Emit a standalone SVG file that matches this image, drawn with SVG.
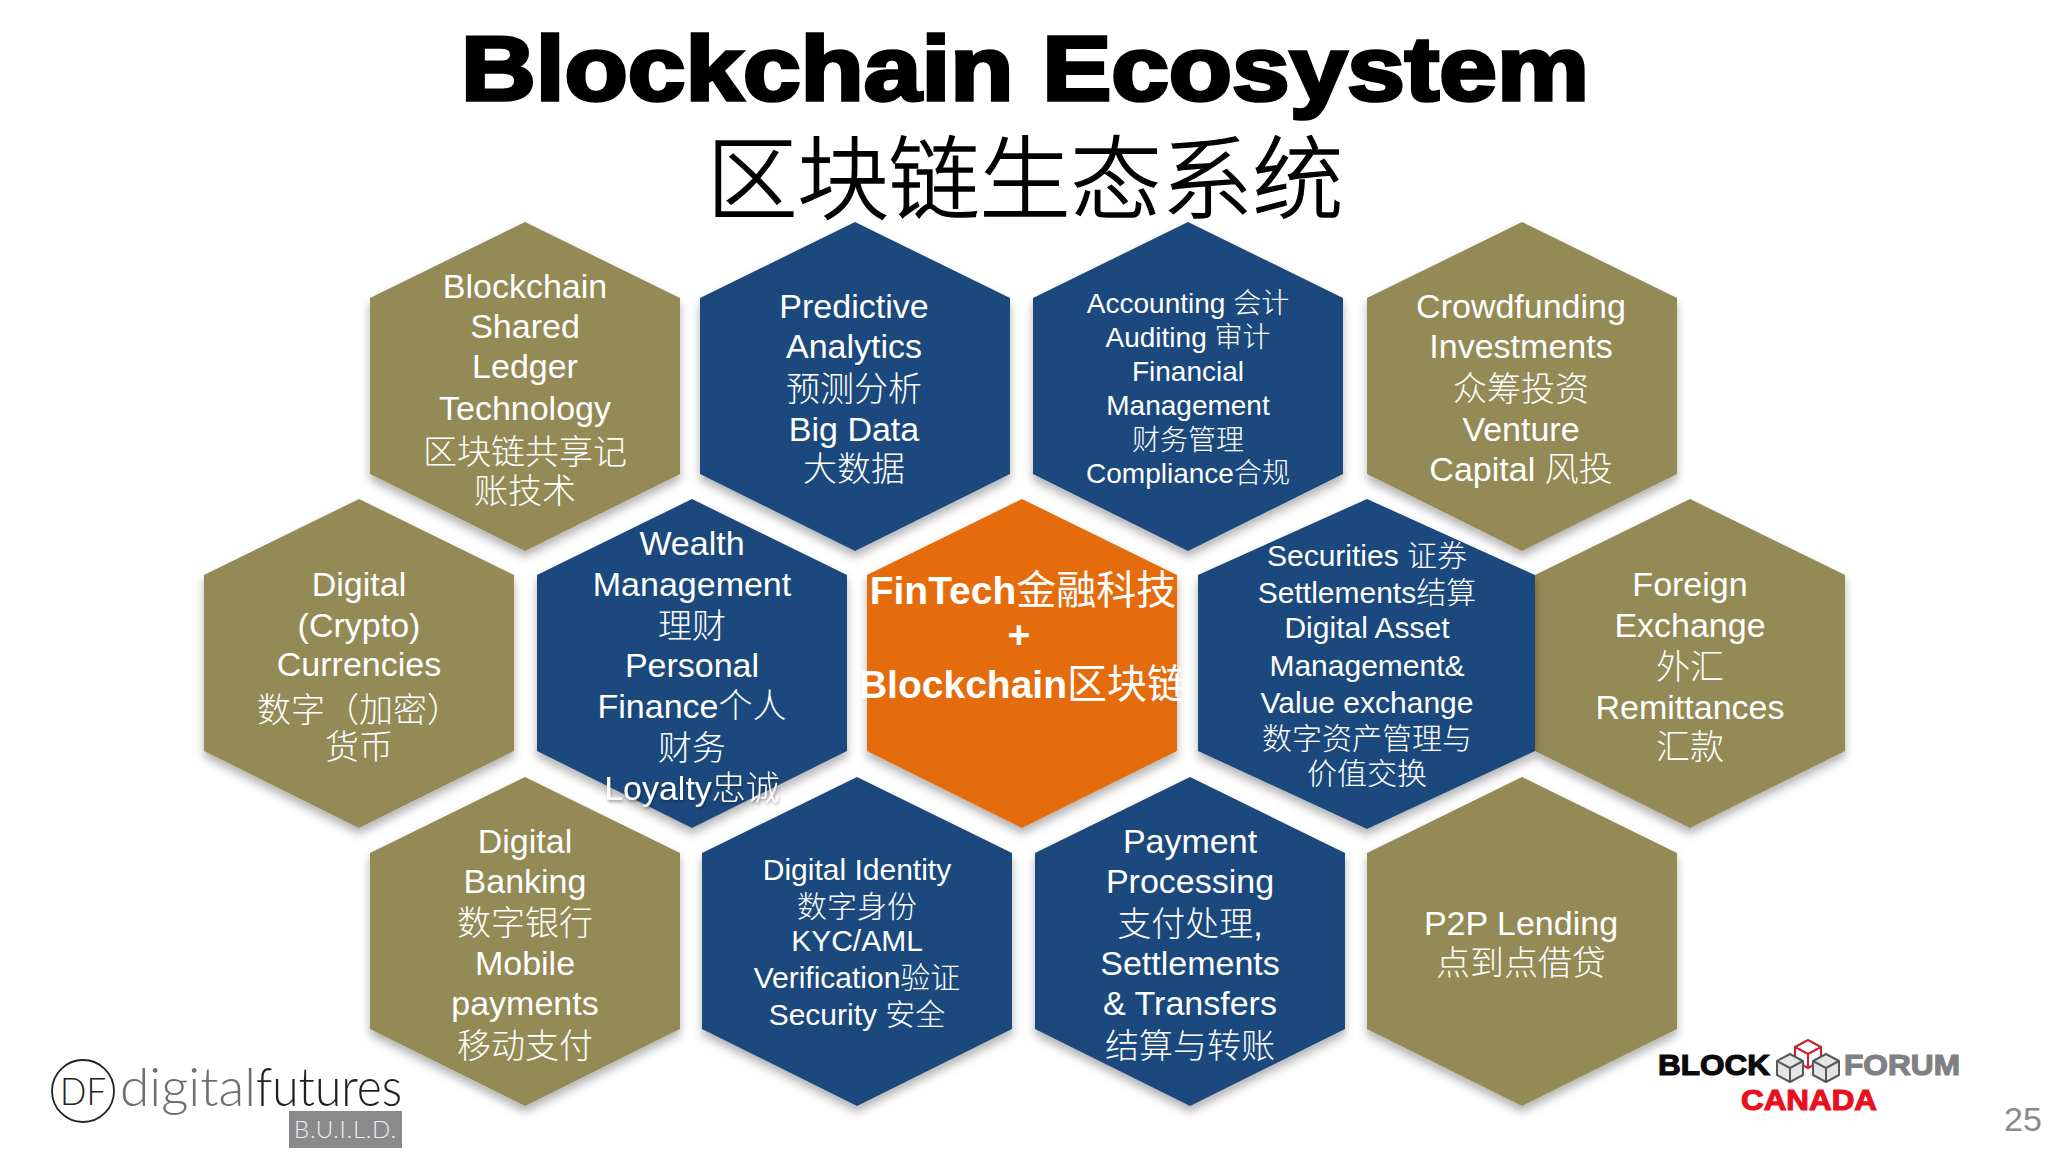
<svg xmlns="http://www.w3.org/2000/svg" width="2048" height="1152" viewBox="0 0 2048 1152">
<style>
text{font-family:"Liberation Sans","Noto Sans CJK SC",sans-serif;text-anchor:middle}
.t{fill:#fff;font-size:34px;font-weight:300}
.s{fill:#fff;font-size:28px;font-weight:300}
.m{fill:#fff;font-size:30px;font-weight:300}
.b{fill:#fff;font-size:39px;font-weight:700}
.z{font-weight:400;font-size:40px}
.o{fill:#938a56}.n{fill:#1f497d}.a{fill:#e46c0a}
.hb{font-weight:900;font-size:30px;stroke-width:1.2px}
.c{fill:#e3e6e4;stroke:#59595b;stroke-width:2;stroke-linejoin:round}
.r{fill:#fff;stroke:#c8232b;stroke-width:2;stroke-linejoin:round}
</style>
<defs>
<filter id="sh" x="-10%" y="-10%" width="120%" height="120%"><feDropShadow dx="0" dy="6" stdDeviation="5" flood-color="#000" flood-opacity=".3"/></filter>
<filter id="ts" x="-10%" y="-30%" width="120%" height="160%"><feDropShadow dx="1" dy="2" stdDeviation="1.5" flood-color="#000" flood-opacity=".35"/></filter>
<polygon id="hex" points="155,0 310,76 310,252 155,329 0,252 0,76"/>
<polygon id="hexw" points="169,0 337,76 337,252 169,330 0,252 0,76"/>
</defs>
<rect width="2048" height="1152" fill="#fff"/>
<g id="title">
<text x="1025" y="100" font-size="90" font-weight="700" fill="#000" stroke="#000" stroke-width="3.5" textLength="1128" lengthAdjust="spacingAndGlyphs">Blockchain Ecosystem</text>
<text x="1025" y="212" font-size="91" font-weight="300" fill="#000" stroke="#000" stroke-width="1.4">区块链生态系统</text>
</g>
<g id="hex-foreign"><use href="#hex" x="1535" y="499" class="o" filter="url(#sh)"/>
<text class="t"><tspan x="1690" y="596">Foreign</tspan><tspan x="1690" y="637">Exchange</tspan><tspan x="1690" y="679">外汇</tspan><tspan x="1690" y="719">Remittances</tspan><tspan x="1690" y="759">汇款</tspan></text></g>
<g id="hex-crypto"><use href="#hex" x="204" y="499" class="o" filter="url(#sh)"/>
<text class="t"><tspan x="359" y="596">Digital</tspan><tspan x="359" y="637">(Crypto)</tspan><tspan x="359" y="676">Currencies</tspan><tspan x="359" y="722">数字（加密）</tspan><tspan x="359" y="759">货币</tspan></text></g>
<g id="hex-blockchain"><use href="#hex" x="370" y="222" class="o" filter="url(#sh)"/>
<text class="t"><tspan x="525" y="298">Blockchain</tspan><tspan x="525" y="338">Shared</tspan><tspan x="525" y="378">Ledger</tspan><tspan x="525" y="420">Technology</tspan><tspan x="525" y="464">区块链共享记</tspan><tspan x="525" y="503">账技术</tspan></text></g>
<g id="hex-predictive"><use href="#hex" x="700" y="222" class="n" filter="url(#sh)"/>
<text class="t"><tspan x="854" y="318">Predictive</tspan><tspan x="854" y="358">Analytics</tspan><tspan x="854" y="401">预测分析</tspan><tspan x="854" y="441">Big Data</tspan><tspan x="854" y="481">大数据</tspan></text></g>
<g id="hex-accounting"><use href="#hex" x="1033" y="222" class="n" filter="url(#sh)"/>
<text class="s"><tspan x="1188" y="313">Accounting 会计</tspan><tspan x="1188" y="347">Auditing 审计</tspan><tspan x="1188" y="381">Financial</tspan><tspan x="1188" y="415">Management</tspan><tspan x="1188" y="450">财务管理</tspan><tspan x="1188" y="483">Compliance合规</tspan></text></g>
<g id="hex-crowdfunding"><use href="#hex" x="1367" y="222" class="o" filter="url(#sh)"/>
<text class="t"><tspan x="1521" y="318">Crowdfunding</tspan><tspan x="1521" y="358">Investments</tspan><tspan x="1521" y="401">众筹投资</tspan><tspan x="1521" y="441">Venture</tspan><tspan x="1521" y="481">Capital 风投</tspan></text></g>
<g id="hex-wealth"><use href="#hex" x="537" y="499" class="n" filter="url(#sh)"/>
<text class="t"><tspan x="692" y="555">Wealth</tspan><tspan x="692" y="596">Management</tspan><tspan x="692" y="638">理财</tspan><tspan x="692" y="677">Personal</tspan><tspan x="692" y="718">Finance个人</tspan><tspan x="692" y="760">财务</tspan></text>
<text class="t" x="692" y="800" filter="url(#ts)">Loyalty忠诚</text></g>
<g id="hex-fintech"><use href="#hex" x="867" y="499" class="a" filter="url(#sh)"/>
<text class="b"><tspan x="1023" y="604">FinTech<tspan class="z">金融科技</tspan></tspan><tspan x="1019" y="648">+</tspan><tspan x="1023" y="698">Blockchain<tspan class="z">区块链</tspan></tspan></text></g>
<g id="hex-securities"><use href="#hexw" x="1198" y="499" class="n" filter="url(#sh)"/>
<text class="m"><tspan x="1367" y="566">Securities 证券</tspan><tspan x="1367" y="603">Settlements结算</tspan><tspan x="1367" y="638">Digital Asset</tspan><tspan x="1367" y="676">Management&amp;</tspan><tspan x="1367" y="713">Value exchange</tspan><tspan x="1367" y="749">数字资产管理与</tspan><tspan x="1367" y="784">价值交换</tspan></text></g>
<g id="hex-banking"><use href="#hex" x="370" y="777" class="o" filter="url(#sh)"/>
<text class="t"><tspan x="525" y="853">Digital</tspan><tspan x="525" y="893">Banking</tspan><tspan x="525" y="935">数字银行</tspan><tspan x="525" y="975">Mobile</tspan><tspan x="525" y="1015">payments</tspan><tspan x="525" y="1058">移动支付</tspan></text></g>
<g id="hex-identity"><use href="#hex" x="702" y="777" class="n" filter="url(#sh)"/>
<text class="m"><tspan x="857" y="880">Digital Identity</tspan><tspan x="857" y="917">数字身份</tspan><tspan x="857" y="951">KYC/AML</tspan><tspan x="857" y="988">Verification验证</tspan><tspan x="857" y="1025">Security 安全</tspan></text></g>
<g id="hex-payment"><use href="#hex" x="1035" y="777" class="n" filter="url(#sh)"/>
<text class="t"><tspan x="1190" y="853">Payment</tspan><tspan x="1190" y="893">Processing</tspan><tspan x="1190" y="936">支付处理,</tspan><tspan x="1190" y="975">Settlements</tspan><tspan x="1190" y="1015">&amp; Transfers</tspan><tspan x="1190" y="1058">结算与转账</tspan></text></g>
<g id="hex-p2p"><use href="#hex" x="1367" y="777" class="o" filter="url(#sh)"/>
<text class="t"><tspan x="1521" y="935">P2P Lending</tspan><tspan x="1521" y="975">点到点借贷</tspan></text></g>
<g id="logo-df">
<circle cx="83" cy="1091" r="31" fill="none" stroke="#222" stroke-width="1.8"/>
<text x="83" y="1105" font-size="38" font-weight="300" fill="#222" style="font-family:Lato,'Liberation Sans',sans-serif" textLength="46" lengthAdjust="spacingAndGlyphs">DF</text>
<text x="188" y="1106" font-size="54" font-weight="300" fill="#6d6e70" style="font-family:Lato,'Liberation Sans',sans-serif" textLength="136" lengthAdjust="spacingAndGlyphs">digital</text>
<text x="329" y="1106" font-size="54" font-weight="300" fill="#1f1f21" style="font-family:Lato,'Liberation Sans',sans-serif" textLength="146" lengthAdjust="spacingAndGlyphs">futures</text>
<rect x="289" y="1111" width="113" height="37" fill="#8a8a8c"/>
<text x="345" y="1138" font-size="24" font-weight="300" fill="#eee" style="font-family:Lato,'Liberation Sans',sans-serif" textLength="102">B.U.I.L.D.</text>
</g>
<g id="logo-blockforum">
<polygon class="r" points="1808,1040 1821,1047 1821,1061 1808,1068 1795,1061 1795,1047"/>
<path class="r" d="M1795,1047 L1808,1054 L1821,1047 M1808,1054 V1068" fill="none"/>
<polygon class="c" points="1790,1054 1803,1061 1803,1075 1790,1082 1777,1075 1777,1061"/>
<path class="c" d="M1777,1061 L1790,1068 L1803,1061 M1790,1068 V1082" fill="none"/>
<polygon class="c" points="1826,1054 1839,1061 1839,1075 1826,1082 1813,1075 1813,1061"/>
<path class="c" d="M1813,1061 L1826,1068 L1839,1061 M1826,1068 V1082" fill="none"/>
<text class="hb" x="1714" y="1075" fill="#0a0a0a" stroke="#0a0a0a" textLength="112" lengthAdjust="spacingAndGlyphs">BLOCK</text>
<text class="hb" x="1902" y="1075" fill="#808082" stroke="#808082" textLength="116" lengthAdjust="spacingAndGlyphs">FORUM</text>
<text class="hb" x="1809" y="1110" fill="#e8101e" stroke="#e8101e" textLength="136" lengthAdjust="spacingAndGlyphs">CANADA</text>
</g>
<text id="page" x="2023" y="1131" font-size="34" fill="#8a8a8a">25</text>
</svg>
